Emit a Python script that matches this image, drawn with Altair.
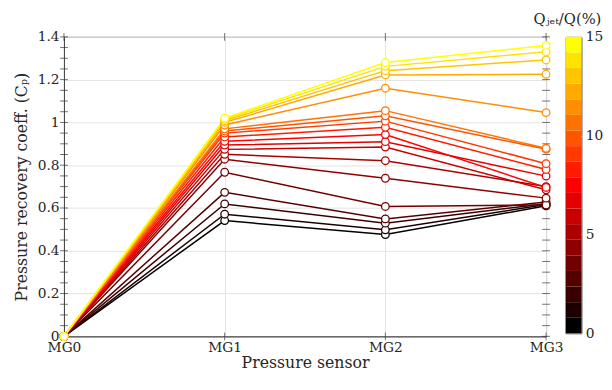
import altair as alt
import pandas as pd

# ---- data ----
sensors = ["MG0", "MG1", "MG2", "MG3"]
n_lines = 19
q_max = 15.0
# jet flow ratio of each line (centre of its colour band), %
q_jet = [(i + 0.5) * q_max / n_lines for i in range(n_lines)]
mg0 = [0.0] * n_lines
mg1 = [0.541, 0.571, 0.619, 0.673, 0.767, 0.828, 0.851, 0.874, 0.894, 0.912,
       0.932, 0.950, 0.960, 0.970, 0.988, 1.000, 1.008, 1.015, 1.020]
mg2 = [0.476, 0.498, 0.529, 0.549, 0.607, 0.739, 0.821, 0.885, 0.910, 0.943,
       0.977, 1.006, 1.031, 1.055, 1.160, 1.222, 1.242, 1.262, 1.280]
mg3 = [0.610, 0.616, 0.620, 0.628, 0.614, 0.646, 0.700, 0.685, 0.749, 0.696,
       0.780, 0.807, 0.875, 0.879, 1.046, 1.225, 1.292, 1.330, 1.360]

y_major = [0, 0.2, 0.4, 0.6, 0.8, 1.0, 1.2, 1.4]
y_minor = [round(0.05 * k, 2) for k in range(29)]
cb_ticks = [0, 5, 10, 15]

# ---- colour map: black -> red -> yellow, 19 steps ----
def _hex(r, g, b):
    return "#{:02x}{:02x}{:02x}".format(r, g, b)

cmap = []
for i in range(n_lines):
    if i <= 9:
        cmap.append(_hex(round(255 * i / 9), 0, 0))
    else:
        cmap.append(_hex(255, round(255 * (i - 9) / 9), 0))

rows = []
for i in range(n_lines):
    for k, vals in enumerate([mg0, mg1, mg2, mg3]):
        rows.append({"line": i, "q": q_jet[i], "pos": k, "cp": vals[i]})
df = pd.DataFrame(rows)

TICK = 4
ytick_df = pd.DataFrame([{"pos": p, "cp": v, "dx": d}
                         for p, d in [(0, TICK), (3, -TICK)] for v in y_minor])
xtick_df = pd.DataFrame([{"pos": p, "cp": v, "dy": d}
                         for p in range(4) for v, d in [(0.0, -TICK), (1.4, TICK)]])

bands = pd.DataFrame({
    "bar": ["cb"] * n_lines,
    "lo": [i * q_max / n_lines for i in range(n_lines)],
    "hi": [(i + 1) * q_max / n_lines for i in range(n_lines)],
    "q": q_jet,
})

FONT = "DejaVu Serif"
TXT = "#262626"
W, H = 491, 305

cscale = alt.Scale(type="quantize", domain=[0, q_max], range=cmap)
xscale = alt.Scale(domain=[0, 3], nice=False, zero=False)
yscale = alt.Scale(domain=[0, 1.4], nice=False, zero=True)
label_expr = "[" + ",".join("'%s'" % s for s in sensors) + "][datum.value]"

X = alt.X("pos:Q", scale=xscale,
          axis=alt.Axis(title="Pressure sensor", values=[0, 1, 2, 3],
                        labelExpr=label_expr, labelFlush=False, labelAngle=0,
                        grid=True, gridColor="#e3e3e3", ticks=False,
                        domain=True, domainColor="#404040",
                        labelPadding=4, titlePadding=1,
                        labelFont=FONT, labelFontSize=14, labelColor=TXT,
                        titleFont=FONT, titleFontSize=16, titleFontWeight="normal",
                        titleColor=TXT))
Y = alt.Y("cp:Q", scale=yscale,
          axis=alt.Axis(title="Pressure recovery coeff. (Cₚ)", values=y_major,
                        format=".1~f", labelFlush=False, grid=True,
                        gridColor="#e3e3e3", ticks=False,
                        domain=True, domainColor="#404040",
                        labelPadding=5, titlePadding=8,
                        labelFont=FONT, labelFontSize=14, labelColor=TXT,
                        titleFont=FONT, titleFontSize=16, titleFontWeight="normal",
                        titleColor=TXT))

lines = alt.Chart(df).mark_line(strokeWidth=1.5).encode(
    x=X, y=Y,
    color=alt.Color("q:Q", scale=cscale, legend=None),
    detail="line:N",
)

points = alt.Chart(df).mark_point(shape="circle", filled=False, fill="white",
                                  fillOpacity=1, strokeWidth=1.3, size=60,
                                  opacity=1).encode(
    x=X, y=Y,
    stroke=alt.Stroke("q:Q", scale=cscale, legend=None),
    order=alt.Order("q:Q"),
)

yticks = alt.Chart(ytick_df).mark_tick(orient="horizontal", size=2 * TICK,
                                       thickness=1, color="#333333").encode(
    x=X, y=Y, xOffset=alt.XOffset("dx:Q", scale=None))
xticks = alt.Chart(xtick_df).mark_tick(orient="vertical", size=2 * TICK,
                                       thickness=1, color="#333333").encode(
    x=X, y=Y, yOffset=alt.YOffset("dy:Q", scale=None))

main = alt.layer(yticks, xticks, lines, points).properties(width=W, height=H)

cbar = alt.Chart(bands).mark_rect().encode(
    x=alt.X("bar:N", axis=None, scale=alt.Scale(paddingInner=0, paddingOuter=0)),
    y=alt.Y("lo:Q", scale=alt.Scale(domain=[0, q_max], nice=False),
            axis=alt.Axis(orient="right", values=cb_ticks, title=None, domain=False,
                          ticks=False, labelPadding=4,
                          labelFont=FONT, labelFontSize=14, labelColor=TXT)),
    y2="hi:Q",
    color=alt.Color("q:Q", scale=cscale, legend=None),
).properties(width=16, height=H - 3)

chart = alt.hconcat(main, cbar, spacing=1).properties(
    title=alt.TitleParams("Qⱼₑₜ/Q(%)", anchor="end", font=FONT, fontSize=15,
                          fontWeight="normal", color=TXT, offset=0, dy=-3, dx=-2),
    padding={"left": 5, "top": 0, "right": 0, "bottom": 0},
).configure_view(stroke="#404040", strokeWidth=1)

chart.save("out.html", embed_options={"renderer": "svg", "actions": False})
